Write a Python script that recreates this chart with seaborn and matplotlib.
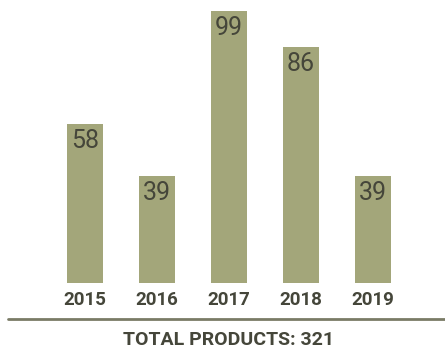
import matplotlib
matplotlib.use("Agg")
import matplotlib.pyplot as plt
import seaborn as sns
import pandas as pd
from matplotlib import font_manager

years = ["2015", "2016", "2017", "2018", "2019"]
products = [58, 39, 99, 86, 39]
total_label = "TOTAL PRODUCTS: 321"

names = {f.name for f in font_manager.fontManager.ttflist}
fam = "Liberation Sans Narrow" if "Liberation Sans Narrow" in names else "Roboto"

sns.set_theme(style="white")
plt.rcParams["font.family"] = [fam, "DejaVu Sans"]

bar_color = "#a3a67a"
text_color = "#45463a"

df = pd.DataFrame({"year": years, "products": products})
fig = plt.figure(figsize=(4.45, 3.52), dpi=100)
ax = fig.add_axes([13/445, 69/352, 432/445, 283/352])
sns.barplot(data=df, x="year", y="products", color=bar_color, width=0.5,
            saturation=1, ax=ax, linewidth=0)
ax.set_xlim(-1, 5)
ax.set_ylim(0, 103)
for s in ax.spines.values():
    s.set_visible(False)
ax.set_yticks([])
ax.set_xlabel("")
ax.set_ylabel("")
ax.tick_params(axis="x", length=0, pad=6)
for lab in ax.get_xticklabels():
    lab.set_fontsize(13.5)
    lab.set_fontweight("bold")
    lab.set_color(text_color)
for i, v in enumerate(products):
    ax.annotate(str(v), (i, v), xytext=(0, -3.5), textcoords="offset points",
                ha="center", va="top", fontsize=18, color=text_color)

fig.add_artist(plt.Line2D([8/445, 1], [1 - 319/352] * 2, color="#7a7b66", lw=2))
fig.text(229/445, 1 - 340/352, total_label, ha="center", va="center",
         fontsize=14, fontweight="bold", color=text_color)
fig.savefig("out.png", dpi=100)
